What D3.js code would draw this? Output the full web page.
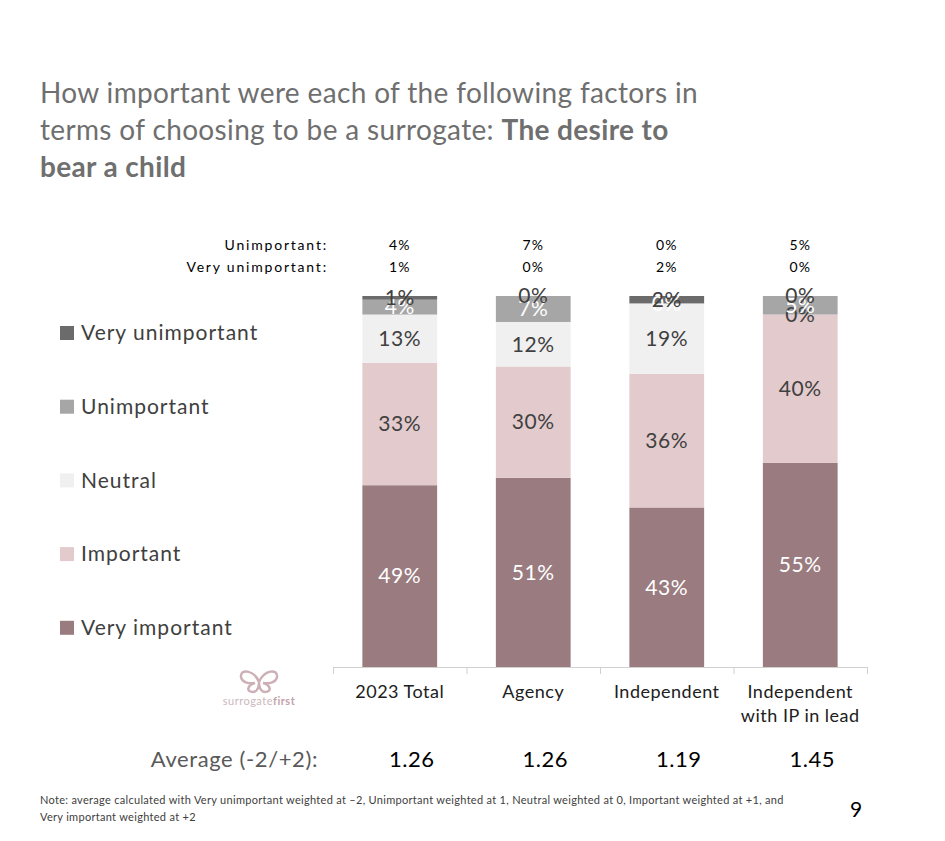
<!DOCTYPE html>
<html>
<head>
<meta charset="utf-8">
<script src="https://cdn.jsdelivr.net/npm/d3@7"></script>
<style>
    body { margin: 0; background: #fff; }
    svg text { font-family: Lato, 'Noto Sans', sans-serif; }
</style>
</head>
<body>
<div id="chart"></div>
<script>
// chart values
const categories = ['2023 Total', 'Agency', 'Independent', 'Independent\nwith IP in lead']
const veryImportant = [49, 51, 43, 55]
const important = [33, 30, 36, 40]
const neutral = [13, 12, 19, 0]
const unimportant = [4, 7, 0, 5]
const veryUnimportant = [1, 0, 2, 0]
const averages = ['1.26', '1.26', '1.19', '1.45']
const seriesNames = ['Very important', 'Important', 'Neutral', 'Unimportant', 'Very unimportant']
const seriesColors = ['#9a7c80', '#e3cbcd', '#f0f0f0', '#a6a6a6', '#6b6b6b']
const labelColors = ['#ffffff', '#404040', '#404040', '#ffffff', '#404040']

const width = 945
const height = 841

const svg = d3.select('#chart')
    .append('svg')
    .attr('width', width)
    .attr('height', height)

// title
const title = svg.append('text')
    .attr('x', 40)
    .attr('y', 103)
    .attr('fill', '#6f6f6f')
    .attr('font-size', 28)
    .attr('letter-spacing', 0.35)
title.append('tspan').attr('x', 40).text('How important were each of the following factors in')
const line2 = title.append('tspan').attr('x', 40).attr('dy', 37)
line2.append('tspan').text('terms of choosing to be a surrogate: ')
line2.append('tspan').attr('font-weight', 'bold').text('The desire to')
title.append('tspan').attr('x', 40).attr('dy', 37).attr('font-weight', 'bold').text('bear a child')

const rows = categories.map((c, i) => ({
    cat: c,
    'Very important': veryImportant[i],
    'Important': important[i],
    'Neutral': neutral[i],
    'Unimportant': unimportant[i],
    'Very unimportant': veryUnimportant[i]
}))

const x = d3.scaleBand().domain(categories).range([333, 867]).paddingInner(0.44).paddingOuter(0.22)
const y = d3.scaleLinear().domain([0, 100]).range([667, 296])
const color = d3.scaleOrdinal().domain(seriesNames).range(seriesColors)

const stacked = d3.stack().keys(seriesNames)(rows)

const layers = svg.selectAll('g.layer')
    .data(stacked)
    .enter()
    .append('g')
    .attr('class', 'layer')
    .attr('fill', (d) => color(d.key))

layers.selectAll('rect')
    .data((d) => d)
    .enter()
    .append('rect')
    .attr('x', (d) => x(d.data.cat))
    .attr('y', (d) => y(d[1]))
    .attr('width', x.bandwidth())
    .attr('height', (d) => y(d[0]) - y(d[1]))

// segment labels
stacked.forEach((layer, li) => {
    svg.append('g')
        .selectAll('text')
        .data(layer)
        .enter()
        .append('text')
        .attr('x', (d) => x(d.data.cat) + x.bandwidth() / 2)
        .attr('y', (d) => (y(d[0]) + y(d[1])) / 2)
        .attr('dy', '0.35em')
        .attr('text-anchor', 'middle')
        .attr('font-size', 21)
        .attr('letter-spacing', 0.6)
        .attr('fill', labelColors[li])
        .text((d) => (d[1] - d[0]) + '%')
})

// axis line with boundary ticks
const bounds = d3.scaleLinear().domain([0, categories.length]).range([333, 867])
const axisG = svg.append('g')
    .attr('transform', 'translate(0, 667)')
    .call(d3.axisBottom(bounds).ticks(categories.length).tickSize(7).tickSizeOuter(7).tickFormat(''))
axisG.selectAll('path, line').attr('stroke', '#d0d0d0')

// category labels
const catG = svg.append('g')
    .attr('transform', 'translate(0, 667)')
    .call(d3.axisBottom(x).tickSize(0).tickFormat(''))
catG.select('path').remove()
catG.selectAll('.tick').each(function (d) {
    const t = d3.select(this).append('text')
        .attr('fill', '#202020')
        .attr('font-size', 18)
        .attr('letter-spacing', 0.5)
        .attr('text-anchor', 'middle')
        .attr('y', 31)
    d.split('\n').forEach((part, i) => {
        t.append('tspan').attr('x', 0).attr('dy', i === 0 ? 0 : 24).text(part)
    })
})

// top rows: unimportant / very unimportant
const topRows = [['Unimportant:', unimportant, 250], ['Very unimportant:', veryUnimportant, 272]]
topRows.forEach(([name, vals, ty]) => {
    svg.append('text')
        .attr('x', 328)
        .attr('y', ty)
        .attr('text-anchor', 'end')
        .attr('font-size', 14)
        .attr('letter-spacing', 1.8)
        .attr('fill', '#000')
        .text(name)
    svg.append('g')
        .selectAll('text')
        .data(vals)
        .enter()
        .append('text')
        .attr('x', (d, i) => x(categories[i]) + x.bandwidth() / 2)
        .attr('y', ty)
        .attr('text-anchor', 'middle')
        .attr('font-size', 14)
        .attr('letter-spacing', 1)
        .attr('fill', '#000')
        .text((d) => d + '%')
})

// legend (top to bottom reversed order)
const legendItems = seriesNames.slice().reverse()
const legend = svg.append('g')
    .selectAll('g')
    .data(legendItems)
    .enter()
    .append('g')
    .attr('transform', (d, i) => `translate(60, ${333 + i * 73.7})`)
legend.append('rect')
    .attr('x', 0)
    .attr('y', -7)
    .attr('width', 14)
    .attr('height', 14)
    .attr('fill', (d) => color(d))
legend.append('text')
    .attr('x', 21)
    .attr('dy', '0.35em')
    .attr('font-size', 21)
    .attr('letter-spacing', 1)
    .attr('fill', '#404040')
    .text((d) => d)

// averages
svg.append('text')
    .attr('x', 318)
    .attr('y', 767)
    .attr('text-anchor', 'end')
    .attr('font-size', 22)
    .attr('letter-spacing', 0.6)
    .attr('fill', '#595959')
    .text('Average (-2/+2):')
svg.append('g')
    .selectAll('text')
    .data(averages)
    .enter()
    .append('text')
    .attr('x', (d, i) => x(categories[i]) + x.bandwidth() / 2 + 12)
    .attr('y', 767)
    .attr('text-anchor', 'middle')
    .attr('font-size', 22)
    .attr('letter-spacing', 0.5)
    .attr('fill', '#000')
    .text((d) => d)

// note + page number
const note = svg.append('text')
    .attr('x', 40)
    .attr('y', 804)
    .attr('font-size', 11)
    .attr('letter-spacing', 0.3)
    .attr('fill', '#404040')
note.append('tspan').attr('x', 40).text('Note:  average calculated with Very unimportant weighted at \u20132, Unimportant weighted at 1, Neutral weighted at 0, Important weighted at +1, and')
note.append('tspan').attr('x', 40).attr('dy', 17).text('Very important weighted at +2')
svg.append('text')
    .attr('x', 856)
    .attr('y', 817)
    .attr('text-anchor', 'middle')
    .attr('font-size', 21)
    .attr('fill', '#000')
    .text('9')

// logo
const logo = svg.append('g').attr('transform', 'translate(259, 681)')
logo.append('path')
    .attr('d', 'M0,1 C-5,-11 -19,-13 -18,-4 C-17,2 -9,3 -4,2 C-12,4 -13,11 -6,11 C-2,11 0,6 0,2 C0,6 2,11 6,11 C13,11 12,4 4,2 C9,3 17,2 18,-4 C19,-13 5,-11 0,1 Z')
    .attr('fill', 'none')
    .attr('stroke', '#cdb0b7')
    .attr('stroke-width', 2.5)
const logoText = logo.append('text')
    .attr('y', 24)
    .attr('text-anchor', 'middle')
    .attr('font-size', 11)
    .attr('letter-spacing', 0.5)
logoText.append('tspan').attr('fill', '#cbb8bc').text('surrogate')
logoText.append('tspan').attr('fill', '#c4a2aa').attr('font-weight', 'bold').text('first')
</script>
</body>
</html>
